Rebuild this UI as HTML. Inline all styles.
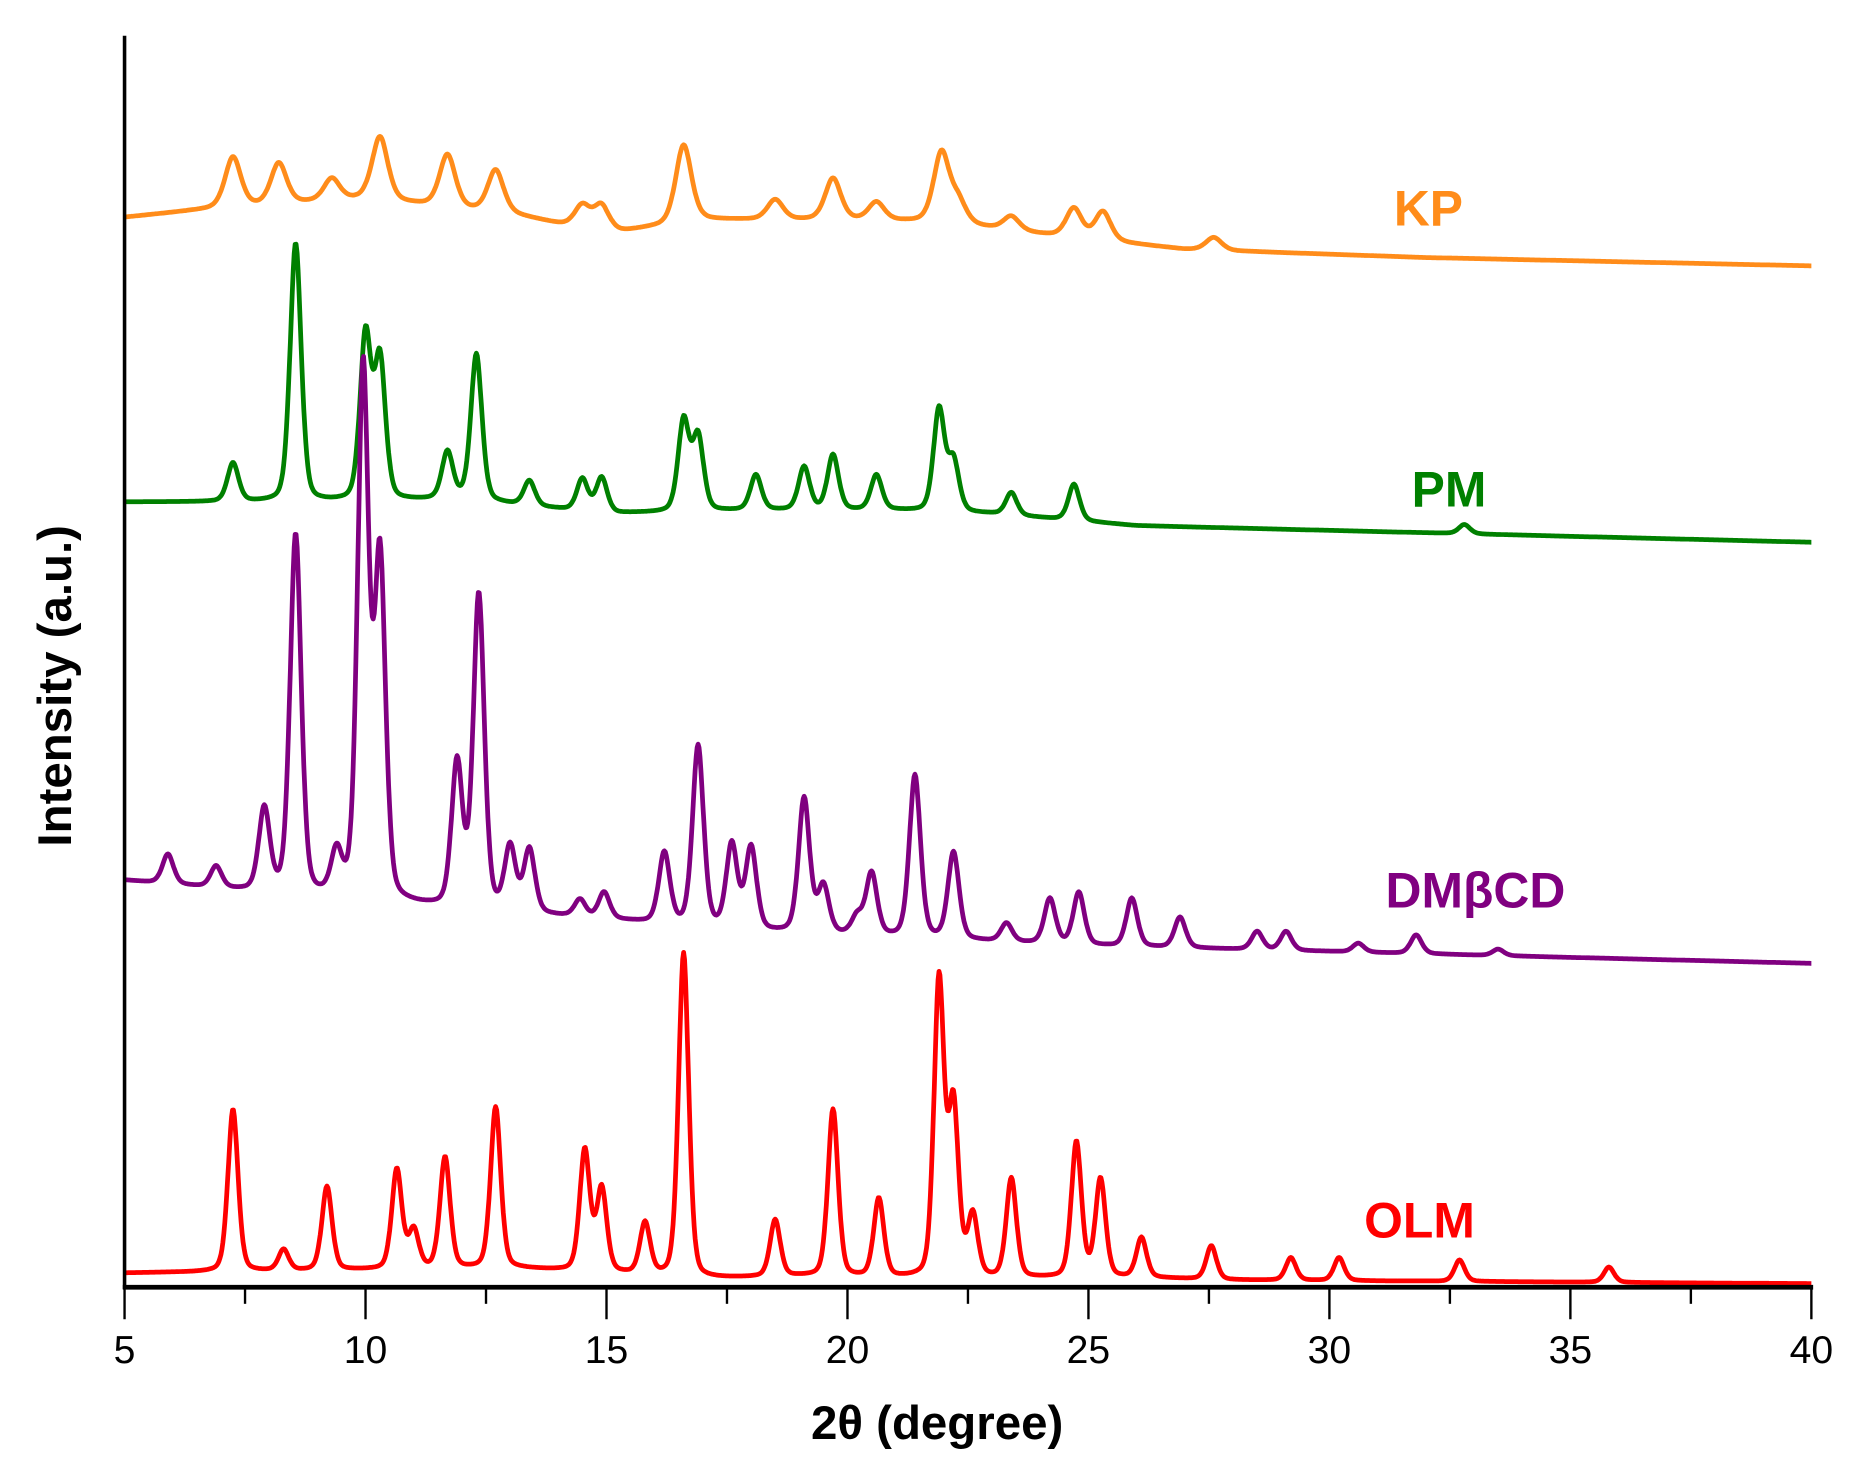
<!DOCTYPE html>
<html><head><meta charset="utf-8"><style>
html,body{margin:0;padding:0;background:#fff;}
svg{display:block;}
text{font-family:"Liberation Sans",Arial,sans-serif;}
</style></head><body>
<svg id="chart" width="1860" height="1476" viewBox="0 0 1568 1244" xmlns="http://www.w3.org/2000/svg">
<g id="series"></g>
<g id="axes"></g>
<text x="1175" y="190" font-size="42" font-weight="bold" fill="#FF8C1A">KP</text>
<text x="1190" y="427" font-size="42" font-weight="bold" fill="#008000">PM</text>
<text x="1168" y="765" font-size="42" font-weight="bold" fill="#800080">DMβCD</text>
<text x="1150" y="1043" font-size="42" font-weight="bold" fill="#FF0000">OLM</text>
<text x="790" y="1213" font-size="40" font-weight="bold" text-anchor="middle">2θ (degree)</text>
<text transform="translate(60,578) rotate(-90)" font-size="40" font-weight="bold" text-anchor="middle">Intensity (a.u.)</text>
</svg>
<script>
const xTicks = [5,10,15,20,25,30,35,40];
const xTickLabels = ["5","10","15","20","25","30","35","40"];
// baselines: [2theta, intensity]
const olmBase = [[5,12],[9,14],[13,16],[15,12],[17,7],[19,9],[22,7],[26,8],[28,6],[32,5],[40,3]];
const dmBase  = [[5,343],[8,332],[10,325],[12,318],[15,310],[18,300],[21,295],[25,288],[30,283],[35,278],[40,273]];
const pmBase  = [[5,662],[9,662],[12,664],[14,656],[15,652],[18,655],[21,655],[23,652],[26,642],[30,638],[40,628]];
const kpBase  = [[5,902],[7,910],[10,918],[13,905],[15,888],[17,900],[20,900],[22,898],[24,888],[27,875],[32,868],[40,861]];
// peaks: [2theta, apex intensity]
const olmPeaks = [[7.25,150],[8.3,32],[9.2,85],[10.65,100],[11.0,50],[11.65,110],[12.7,152],[14.55,117],[14.9,85],[15.8,55],[16.6,282],[18.5,57],[19.7,150],[20.65,75],[21.9,263],[22.2,160],[22.6,63],[23.4,92],[24.75,123],[25.25,92],[26.1,42],[27.55,35],[29.2,25],[30.2,25],[32.7,23],[35.8,17]];
const dmPeaks = [[5.9,365],[6.9,355],[7.9,405],[8.55,635],[9.4,370],[9.95,780],[10.3,623],[11.9,445],[12.35,585],[13.0,373],[13.4,370],[14.45,327],[14.95,333],[16.2,367],[16.9,457],[17.6,375],[18.0,372],[19.1,413],[19.5,340],[20.2,315],[20.5,350],[21.4,432],[22.2,367],[23.3,307],[24.2,328],[24.8,333],[25.9,328],[26.9,312],[28.5,300],[29.1,300],[30.6,290],[31.8,297],[33.5,285]];
const pmPeaks = [[7.25,695],[8.55,880],[10.0,807],[10.3,787],[11.7,705],[12.3,787],[13.4,680],[14.5,682],[14.9,683],[16.6,733],[16.9,720],[18.1,685],[19.1,692],[19.7,702],[20.6,685],[21.9,742],[22.2,700],[23.4,670],[24.7,677],[32.8,643]];
const kpPeaks = [[7.25,953],[8.2,948],[9.3,935],[10.3,970],[11.7,955],[12.7,942],[14.5,913],[14.9,913],[16.6,963],[18.5,917],[19.7,935],[20.6,915],[21.95,958],[22.3,920],[23.4,903],[24.7,910],[25.3,907],[27.6,885]];

const X0=105,X1=1527,Y0=1085,Y1=30;
function sx(t){return X0+(t-5)*(X1-X0)/35;}
function sy(v){return Y0-v;}
function baseAt(b,t){for(let i=0;i<b.length-1;i++){if(t<=b[i+1][0]){const f=(t-b[i][0])/(b[i+1][0]-b[i][0]);return b[i][1]+f*(b[i+1][1]-b[i][1]);}}return b[b.length-1][1];}
const NS="http://www.w3.org/2000/svg";
const sg=document.getElementById('series');
function shape(z){return 0.65*Math.exp(-0.5*z*z)+0.35/(1+z*z);}
function drawSeries(base,peaks,sig,color,name){
  const amps=peaks.map(p=>{let a=p[1]-baseAt(base,p[0]);return [p[0],a];});
  // reduce amplitude for overlapping neighbours
  const adj=amps.map((a,i)=>{let extra=0;amps.forEach((b,j)=>{if(j!==i)extra+=Math.max(0,b[1])*shape((a[0]-b[0])/sig);});return [a[0],Math.max(a[1]-0.6*extra,a[1]*0.4)];});
  let d="";
  for(let t=5;t<=40.0001;t+=0.02){
    let v=baseAt(base,t);
    for(const a of adj){v+=a[1]*shape((t-a[0])/sig);}
    d+=(d?"L":"M")+sx(t).toFixed(1)+" "+sy(v).toFixed(1);
  }
  const p=document.createElementNS(NS,'path');
  p.setAttribute('d',d);p.setAttribute('fill','none');p.setAttribute('stroke',color);p.setAttribute('stroke-width','4');p.setAttribute('stroke-linejoin','round');
  
  
  sg.appendChild(p);
}
drawSeries(kpBase,kpPeaks,0.17,'#FF8C1A','series-kp');
drawSeries(pmBase,pmPeaks,0.12,'#008000','series-pm');
drawSeries(dmBase,dmPeaks,0.12,'#800080','series-dmbcd');
drawSeries(olmBase,olmPeaks,0.11,'#FF0000','series-olm');

const ax=document.getElementById('axes');
function line(x1,y1,x2,y2,w,n){const l=document.createElementNS(NS,'line');l.setAttribute('x1',x1);l.setAttribute('y1',y1);l.setAttribute('x2',x2);l.setAttribute('y2',y2);l.setAttribute('stroke','#000');l.setAttribute('stroke-width',w);


ax.appendChild(l);}
line(X0,Y1,X0,Y0+1.5,3,'y-axis-line');
line(X0-1.5,Y0,X1+1.5,Y0,4,'x-axis-line');
xTicks.forEach((t,i)=>{
  line(sx(t),Y0,sx(t),Y0+27,2,'x-major-tick');
  if(i<xTicks.length-1) line(sx(t+2.5),Y0,sx(t+2.5),Y0+14,2,'x-minor-tick');
  const tx=document.createElementNS(NS,'text');
  tx.setAttribute('x',sx(t));tx.setAttribute('y',Y0+64);tx.setAttribute('font-size','33');tx.setAttribute('text-anchor','middle');
  tx.textContent=xTickLabels[i];
  
  
  ax.appendChild(tx);
});
</script>
</body></html>
